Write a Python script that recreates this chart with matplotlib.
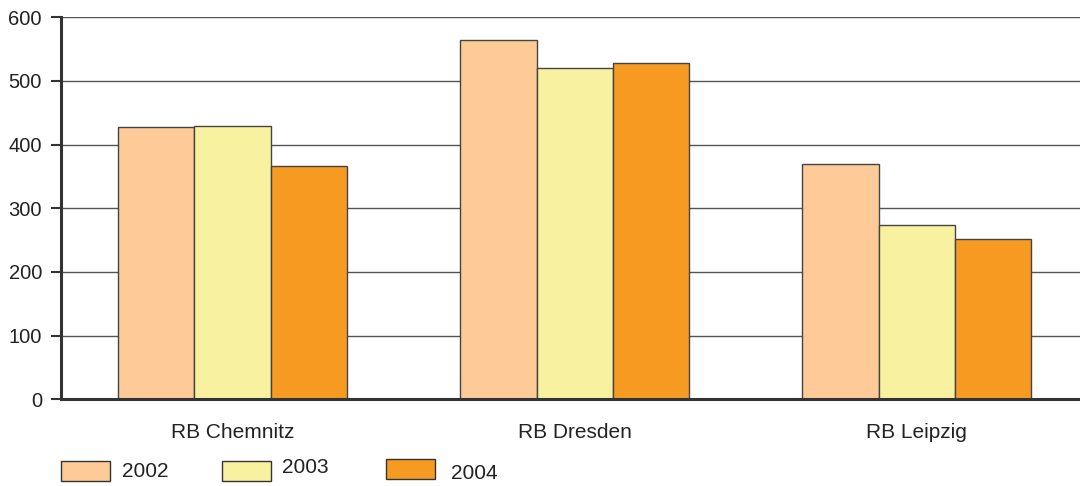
import matplotlib.pyplot as plt
import numpy as np
from matplotlib.patches import Rectangle

plt.rcParams["font.family"] = ["Liberation Sans", "DejaVu Sans"]

regions = ["RB Chemnitz", "RB Dresden", "RB Leipzig"]
years = ["2002", "2003", "2004"]
values_2002 = [427, 564, 369]
values_2003 = [430, 521, 274]
values_2004 = [366, 528, 251]
y_ticks = [0, 100, 200, 300, 400, 500, 600]

colors = ["#FDCA98", "#F8F2A0", "#F79A22"]
series = [values_2002, values_2003, values_2004]

fig = plt.figure(figsize=(10.8, 4.86), dpi=100)
ax = fig.add_axes([61.4 / 1080, 86.7 / 486, 1026.6 / 1080, 382 / 486])

x = np.arange(len(regions))
width = 0.223
for i, (vals, color) in enumerate(zip(series, colors)):
    ax.bar(x + (i - 1) * width, vals, width, color=color,
           edgecolor="#444444", linewidth=1, zorder=3)

ax.set_xlim(-0.5, 2.5)
ax.set_ylim(0, 600)
ax.set_yticks(y_ticks)
ax.set_xticks(x)
ax.set_xticklabels(regions, fontsize=15, color="#222222")
ax.tick_params(axis="x", length=0, pad=17)
ax.tick_params(axis="y", length=7, width=1.5, color="#333333",
               labelsize=14.5, labelcolor="#222222", pad=7)
ax.yaxis.grid(True, color="#555555", linewidth=1, zorder=0)

for side in ["top", "right"]:
    ax.spines[side].set_visible(False)
for side in ["left", "bottom"]:
    ax.spines[side].set_linewidth(2.2)
    ax.spines[side].set_color("#333333")
    ax.spines[side].set_zorder(4)

# legend drawn by hand, as in the original
legend_x = [61, 222, 386]
legend_y = [5, 5, 7]
text_x = [122, 282, 451]
text_y = [15, 19, 13]
for lx, ly, tx, ty, color, label in zip(legend_x, legend_y, text_x, text_y, colors, years):
    fig.add_artist(Rectangle((lx / 1080, ly / 486), 49 / 1080, 20 / 486,
                             transform=fig.transFigure, facecolor=color,
                             edgecolor="#333333", linewidth=1))
    fig.text(tx / 1080, ty / 486, label, fontsize=15, color="#222222",
             va="center", ha="left")

fig.savefig("out.png", dpi=100)
